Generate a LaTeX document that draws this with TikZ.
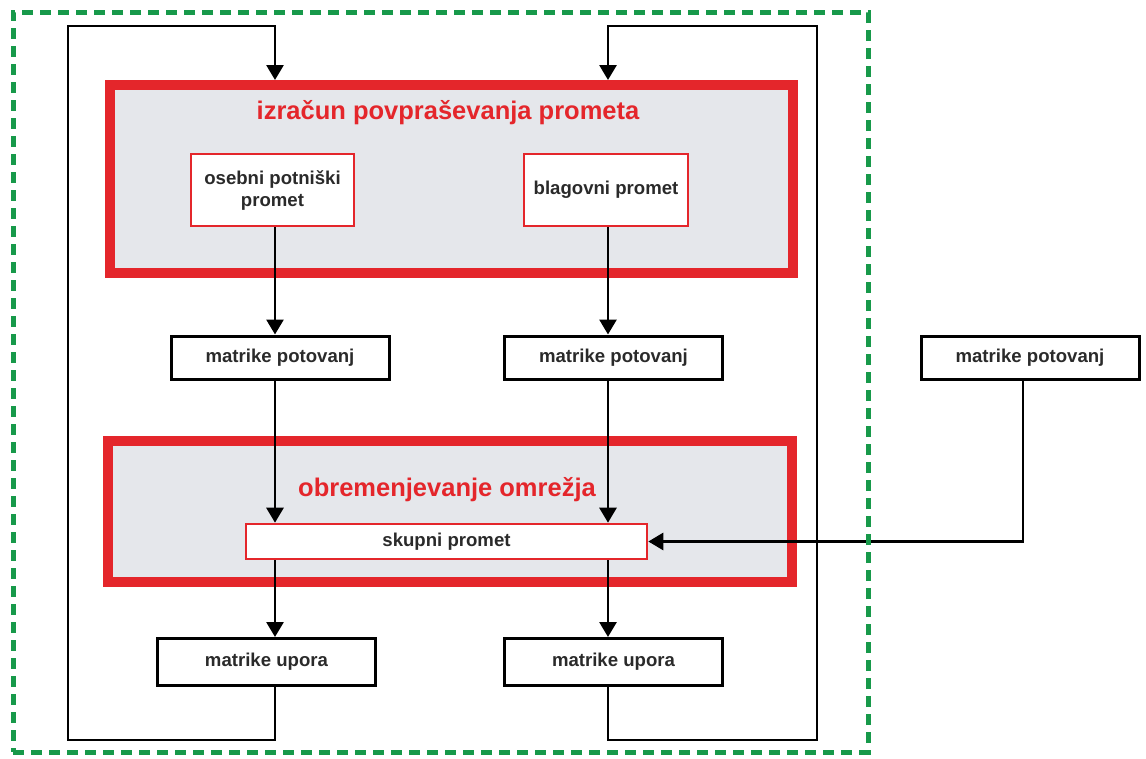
\documentclass[tikz,border=0pt]{standalone}
\usepackage{fontspec}
\setmainfont{Liberation Sans}
\usepackage{tikz}
\usetikzlibrary{arrows.meta,positioning,calc}
\definecolor{cRed}{HTML}{E4262B}
\definecolor{cGreen}{HTML}{17994A}
\definecolor{cFill}{HTML}{E5E7EB}
\definecolor{cInk}{HTML}{2A2A2A}
\tikzset{
  grp/.style={draw=cRed,fill=cFill,line width=10pt,inner sep=0pt},
  gttl/.style={text=cRed,font=\fontsize{25.5}{30}\selectfont\bfseries,inner sep=0pt},
  mbox/.style={draw=black,fill=white,line width=3pt,minimum width=218pt,minimum height=43pt,inner sep=0pt,align=center,text=cInk,font=\fontsize{18.6}{22}\selectfont\bfseries},
  rbox/.style={mbox,draw=cRed,line width=2.6pt},
  arr/.style={-{Triangle[width=17pt,length=15pt]},line width=2.8pt,color=black},
  frm/.style={draw=cGreen,line width=5pt,dash pattern=on 11pt off 7pt,inner sep=0pt},
}
\begin{document}
\begin{tikzpicture}[x=1pt,y=-1pt]
  \useasboundingbox (0,0) rectangle (1146,758);
  % containers
  \node[grp,minimum width=683pt,minimum height=188pt] (izr) at (451.5,179) {};
  \node[grp,minimum width=684pt,minimum height=141pt] (obr) at (450,511.5) {};
  \node[gttl] (izrT) at (448,113) {izračun povpraševanja prometa};
  \node[gttl] (obrT) at (447,490) {obremenjevanje omrežja};
  % boxes
  \node[rbox,minimum width=163pt,minimum height=72pt] (osb) at (272.5,190) {osebni potniški\\promet};
  \node[rbox,minimum width=164pt,minimum height=72pt] (blg) at (606,190) {blagovni promet};
  \node[mbox] (mp1) at (280,357.5) {matrike potovanj};
  \node[mbox] (mp2) at (613.5,357.5) {matrike potovanj};
  \node[mbox] (mp3) at (1030,357.5) {matrike potovanj};
  \node[rbox,minimum width=401pt,minimum height=35pt] (skp) at (446.5,541.5) {skupni promet};
  \node[mbox,minimum height=47pt] (up1) at (266.5,662) {matrike upora};
  \node[mbox,minimum height=47pt] (up2) at (613.5,662) {matrike upora};
  % columns and loop corners
  \coordinate (cL) at (275,0);
  \coordinate (cR) at (608,0);
  \coordinate (cX) at (1023,0);
  \coordinate (lpLB) at (68,740);
  \coordinate (lpLT) at (68,26);
  \coordinate (lpRB) at (817,740);
  \coordinate (lpRT) at (817,26);
  % connectors
  \draw[arr] (osb.south -| cL) -- (mp1.north -| cL);
  \draw[arr] (blg.south -| cR) -- (mp2.north -| cR);
  \draw[arr] (mp1.south -| cL) -- (skp.north -| cL);
  \draw[arr] (mp2.south -| cR) -- (skp.north -| cR);
  \draw[arr] (skp.south -| cL) -- (up1.north -| cL);
  \draw[arr] (skp.south -| cR) -- (up2.north -| cR);
  \draw[arr] (mp3.south -| cX) |- (skp.east);
  \draw[arr] (up1.south -| cL) |- (lpLB) -- (lpLT) -| (izr.north -| cL);
  \draw[arr] (up2.south -| cR) |- (lpRB) -- (lpRT) -| (izr.north -| cR);
  % frame
  \node[frm,minimum width=855pt,minimum height=740pt] (frm) at (440.5,382) {};
\end{tikzpicture}
\end{document}
